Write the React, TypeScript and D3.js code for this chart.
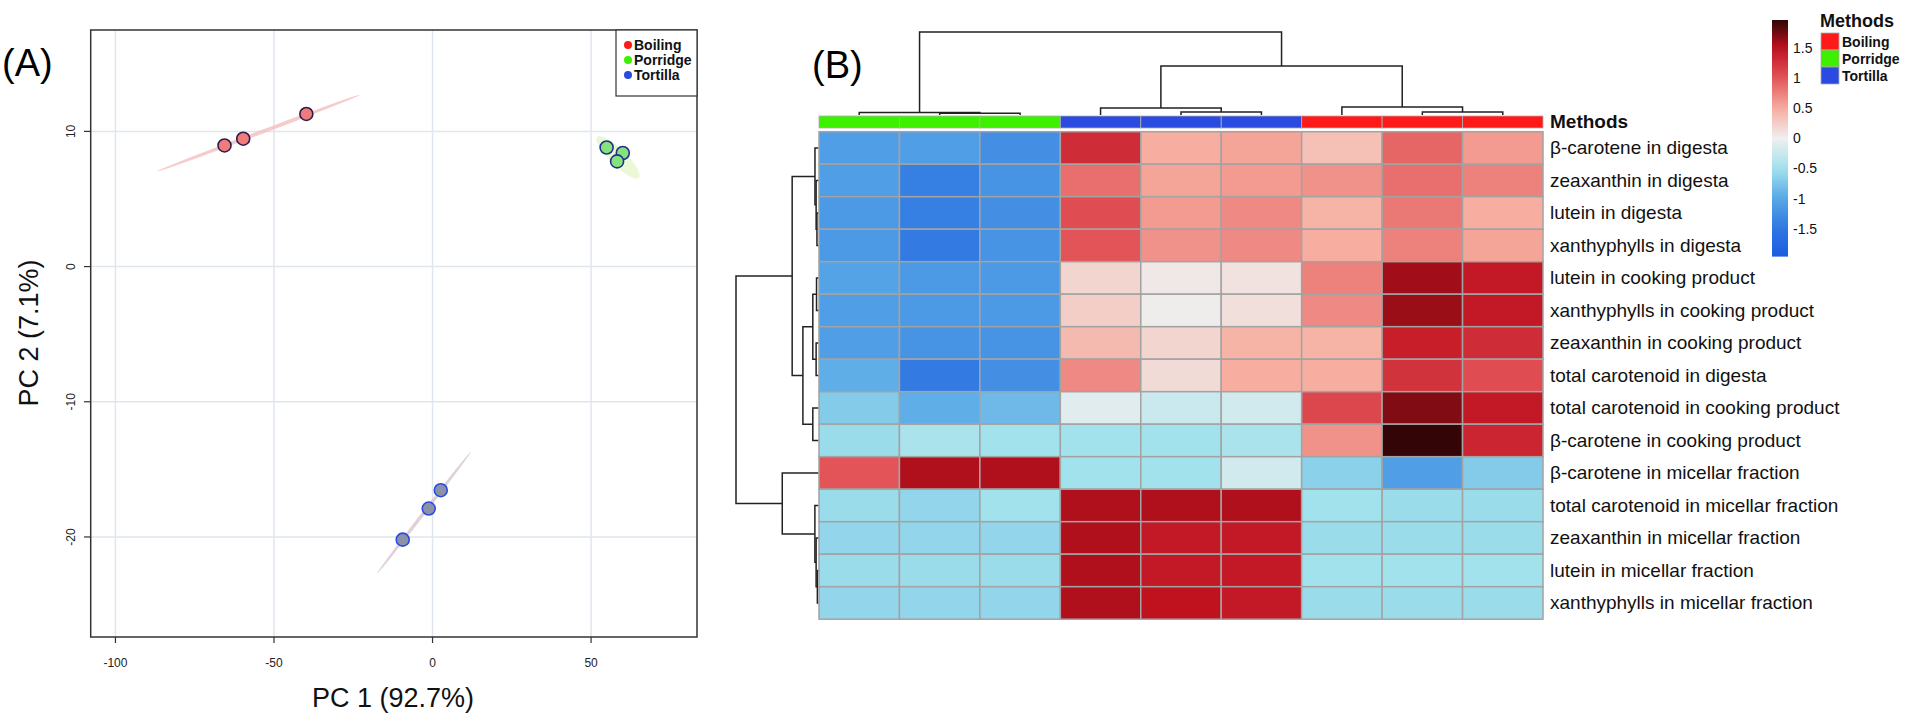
import * as d3 from 'd3';

// ---------- (A) PCA scores ----------
const methods = ['Boiling', 'Porridge', 'Tortilla'];
const methodColors = ['#ff1a1a', '#3cf000', '#2b4be0'];
const boilingPC1 = [-65.6, -59.7, -39.8];
const boilingPC2 = [8.96, 9.46, 11.29];
const porridgePC1 = [54.9, 60.0, 58.2];
const porridgePC2 = [8.81, 8.4, 7.78];
const tortillaPC1 = [2.6, -1.2, -9.4];
const tortillaPC2 = [-16.54, -17.9, -20.2];
// confidence ellipse major axis ends (PC1, PC2)
const boilingEllipse = [[-86.9, 7.04], [-22.9, 12.7]];
const porridgeEllipse = [[51.9, 9.6], [65.1, 6.57]];
const tortillaEllipse = [[-17.5, -22.7], [12.1, -13.7]];
const pcaXTicks = [-100, -50, 0, 50];
const pcaYTicks = [-20, -10, 0, 10];

// ---------- (B) heatmap ----------
const columnMethods = [
  'Porridge', 'Porridge', 'Porridge',
  'Tortilla', 'Tortilla', 'Tortilla',
  'Boiling', 'Boiling', 'Boiling',
];
const rowLabels = [
  'β-carotene in digesta',
  'zeaxanthin in digesta',
  'lutein in digesta',
  'xanthyphylls in digesta',
  'lutein in cooking product',
  'xanthyphylls in cooking product',
  'zeaxanthin in cooking product',
  'total carotenoid in digesta',
  'total carotenoid in cooking product',
  'β-carotene in cooking product',
  'β-carotene in micellar fraction',
  'total carotenoid in micellar fraction',
  'zeaxanthin in micellar fraction',
  'lutein in micellar fraction',
  'xanthyphylls in micellar fraction',
];
const heatValues = [
  [-1.1, -1.1, -1.25, 1.3, 0.5, 0.55, 0.35, 0.9, 0.6],
  [-1.1, -1.4, -1.2, 0.85, 0.55, 0.6, 0.65, 0.85, 0.75],
  [-1.15, -1.4, -1.25, 1.05, 0.6, 0.7, 0.45, 0.8, 0.5],
  [-1.15, -1.45, -1.2, 1.0, 0.65, 0.7, 0.5, 0.75, 0.55],
  [-1.05, -1.15, -1.15, 0.2, 0.05, 0.1, 0.75, 1.6, 1.45],
  [-1.1, -1.15, -1.15, 0.25, 0.02, 0.12, 0.7, 1.62, 1.45],
  [-1.1, -1.2, -1.2, 0.4, 0.2, 0.45, 0.45, 1.4, 1.3],
  [-0.95, -1.45, -1.25, 0.7, 0.15, 0.5, 0.5, 1.25, 1.05],
  [-0.7, -0.95, -0.85, -0.1, -0.25, -0.2, 1.1, 1.7, 1.45],
  [-0.55, -0.45, -0.5, -0.5, -0.5, -0.45, 0.65, 1.95, 1.35],
  [1.0, 1.55, 1.55, -0.5, -0.5, -0.2, -0.65, -1.1, -0.7],
  [-0.55, -0.6, -0.5, 1.55, 1.55, 1.55, -0.5, -0.55, -0.55],
  [-0.6, -0.6, -0.6, 1.55, 1.45, 1.45, -0.55, -0.55, -0.55],
  [-0.55, -0.55, -0.55, 1.55, 1.45, 1.45, -0.5, -0.5, -0.5],
  [-0.6, -0.6, -0.6, 1.55, 1.5, 1.45, -0.55, -0.55, -0.55],
];
const colorStops = [-1.96, -1.5, -1, -0.5, 0, 0.5, 1, 1.5, 1.96];
const colorHex = ['#1e5be0', '#2f76e2', '#58a8e6', '#a2e2ec', '#efefef', '#f7ad9f', '#e25458', '#c0111f', '#300505'];
const colorbarTicks = [-1.5, -1, -0.5, 0, 0.5, 1, 1.5];

type TreeNode = number | { h: number; c: [TreeNode, TreeNode] };
const colTree: TreeNode = {
  h: 10,
  c: [
    { h: 0.3, c: [0, { h: 0.22, c: [1, 2] }] },
    {
      h: 5.9,
      c: [
        { h: 0.84, c: [3, { h: 0.36, c: [4, 5] }] },
        { h: 0.96, c: [6, { h: 0.36, c: [7, 8] }] },
      ],
    },
  ],
};
const rowTree: TreeNode = {
  h: 10,
  c: [
    {
      h: 3.2,
      c: [
        { h: 0.44, c: [0, { h: 0.3, c: [1, { h: 0.2, c: [2, 3] }] }] },
        {
          h: 1.9,
          c: [
            { h: 0.7, c: [{ h: 0.25, c: [4, 5] }, { h: 0.3, c: [6, 7] }] },
            { h: 0.7, c: [8, 9] },
          ],
        },
      ],
    },
    { h: 4.4, c: [10, { h: 0.45, c: [11, { h: 0.3, c: [12, { h: 0.15, c: [13, 14] }] }] }] },
  ],
};

const FONT = '"Liberation Sans", Arial, sans-serif';

function dendroSegments(node: TreeNode, leafPos: (i: number) => number) {
  const segs: { p1: number; h1: number; p2: number; h2: number; h: number }[] = [];
  function walk(n: TreeNode): { p: number; h: number } {
    if (typeof n === 'number') return { p: leafPos(n), h: 0 };
    const a = walk(n.c[0]);
    const b = walk(n.c[1]);
    segs.push({ p1: a.p, h1: a.h, p2: b.p, h2: b.h, h: n.h });
    return { p: (a.p + b.p) / 2, h: n.h };
  }
  walk(node);
  return segs;
}

function PcaPanel() {
  const x = d3.scaleLinear().domain([-107.8, 83.4]).range([90.7, 697]);
  const y = d3.scaleLinear().domain([-27.4, 17.5]).range([637, 30]);
  const groups = [
    { pc1: boilingPC1, pc2: boilingPC2, ell: boilingEllipse, fill: '#ef7b7b', stroke: '#2a1f50', ellFill: '#f4c2c2', ellW: 1.9 },
    { pc1: porridgePC1, pc2: porridgePC2, ell: porridgeEllipse, fill: '#86e27e', stroke: '#23308a', ellFill: '#e8f7cf', ellW: 8 },
    { pc1: tortillaPC1, pc2: tortillaPC2, ell: tortillaEllipse, fill: '#8a91a9', stroke: '#2b4be0', ellFill: '#dac8d2', ellW: 1.7 },
  ];

  return (
    <g>
      <text x={2} y={76} fontSize={38} fontFamily={FONT}>(A)</text>
      {pcaXTicks.map((t) => (
        <line key={`gx${t}`} x1={x(t)} x2={x(t)} y1={30} y2={637} stroke="#dfe6ee" strokeWidth={1.5} />
      ))}
      {pcaYTicks.map((t) => (
        <line key={`gy${t}`} x1={90.7} x2={697} y1={y(t)} y2={y(t)} stroke="#dfe6ee" strokeWidth={1.5} />
      ))}
      {groups.map((g, gi) => {
        const [[ax, ay], [bx, by]] = g.ell;
        const x1 = x(ax), y1 = y(ay), x2 = x(bx), y2 = y(by);
        const cx = (x1 + x2) / 2;
        const cy = (y1 + y2) / 2;
        const rx = Math.hypot(x2 - x1, y2 - y1) / 2;
        const ang = (Math.atan2(y2 - y1, x2 - x1) * 180) / Math.PI;
        return (
          <ellipse
            key={`e${gi}`}
            cx={cx}
            cy={cy}
            rx={rx}
            ry={g.ellW}
            transform={`rotate(${ang} ${cx} ${cy})`}
            fill={g.ellFill}
            opacity={0.85}
          />
        );
      })}
      {groups.map((g, gi) =>
        g.pc1.map((v, i) => (
          <circle
            key={`p${gi}-${i}`}
            cx={x(v)}
            cy={y(g.pc2[i])}
            r={6.5}
            fill={g.fill}
            stroke={g.stroke}
            strokeWidth={1.6}
          />
        )),
      )}
      <rect x={90.7} y={30} width={697 - 90.7} height={607} fill="none" stroke="#333" strokeWidth={1.5} />
      {pcaXTicks.map((t) => (
        <g key={`tx${t}`}>
          <line x1={x(t)} x2={x(t)} y1={637} y2={643} stroke="#333" strokeWidth={1.2} />
          <text x={x(t)} y={667} fontSize={12} textAnchor="middle" fontFamily={FONT} fill="#222">
            {t}
          </text>
        </g>
      ))}
      {pcaYTicks.map((t) => (
        <g key={`ty${t}`}>
          <line x1={84} x2={90.7} y1={y(t)} y2={y(t)} stroke="#333" strokeWidth={1.2} />
          <text
            transform={`translate(75, ${y(t)}) rotate(-90)`}
            fontSize={12}
            textAnchor="middle"
            fontFamily={FONT}
            fill="#222"
          >
            {t}
          </text>
        </g>
      ))}
      <text x={393} y={707} fontSize={27} textAnchor="middle" fontFamily={FONT} fill="#111">
        PC 1 (92.7%)
      </text>
      <text
        transform={`translate(38, 333) rotate(-90)`}
        fontSize={27}
        textAnchor="middle"
        fontFamily={FONT}
        fill="#111"
      >
        PC 2 (7.1%)
      </text>
      <rect x={616} y={30} width={81} height={66} fill="#fff" stroke="#333" strokeWidth={1.2} />
      {methods.map((m, i) => (
        <g key={m}>
          <circle cx={628} cy={45 + i * 15} r={4} fill={methodColors[i]} />
          <text x={634} y={50 + i * 15} fontSize={14} fontWeight="bold" fontFamily={FONT} fill="#111">
            {m}
          </text>
        </g>
      ))}
    </g>
  );
}

function HeatPanel() {
  const cols = columnMethods.map((_, i) => i);
  const xb = d3.scaleBand<number>().domain(cols).range([819, 1543]);
  const yb = d3.scaleBand<number>().domain(rowLabels.map((_, i) => i)).range([131.7, 619.2]);
  const color = d3
    .scaleLinear<string>()
    .domain(colorStops)
    .range(colorHex)
    .interpolate(d3.interpolateRgb)
    .clamp(true);
  const methodColor = (m: string) => methodColors[methods.indexOf(m)];

  const colH = d3.scaleLinear().domain([0, 10]).range([115, 32]);
  const rowH = d3.scaleLinear().domain([0, 10]).range([818.6, 736]);
  const colSegs = dendroSegments(colTree, (i) => (xb(i) || 0) + xb.bandwidth() / 2);
  const rowSegs = dendroSegments(rowTree, (i) => (yb(i) || 0) + yb.bandwidth() / 2);

  const cb = d3.scaleLinear().domain([-1.96, 1.96]).range([256.6, 20]);
  const gradStops = d3.range(0, 1.0001, 0.05);

  return (
    <g>
      <text x={812} y={78} fontSize={38} fontFamily={FONT}>(B)</text>
      {colSegs.map((s, i) => (
        <path
          key={`cd${i}`}
          d={`M${s.p1},${colH(s.h1)}V${colH(s.h)}H${s.p2}V${colH(s.h2)}`}
          fill="none"
          stroke="#222"
          strokeWidth={1.5}
        />
      ))}
      {rowSegs.map((s, i) => (
        <path
          key={`rd${i}`}
          d={`M${rowH(s.h1)},${s.p1}H${rowH(s.h)}V${s.p2}H${rowH(s.h2)}`}
          fill="none"
          stroke="#222"
          strokeWidth={1.5}
        />
      ))}
      {columnMethods.map((m, i) => (
        <rect
          key={`mb${i}`}
          x={xb(i)}
          y={116}
          width={xb.bandwidth()}
          height={12}
          fill={methodColor(m)}
          stroke="#b0b0b0"
          strokeWidth={0.8}
        />
      ))}
      <text x={1550} y={128} fontSize={19} fontWeight="bold" fontFamily={FONT} fill="#111">
        Methods
      </text>
      {heatValues.map((row, r) =>
        row.map((v, c) => (
          <rect
            key={`c${r}-${c}`}
            x={xb(c)}
            y={yb(r)}
            width={xb.bandwidth()}
            height={yb.bandwidth()}
            fill={color(v)}
            stroke="#a3a3a3"
            strokeWidth={1.5}
          />
        )),
      )}
      {rowLabels.map((l, r) => (
        <text
          key={`rl${r}`}
          x={1550}
          y={(yb(r) || 0) + yb.bandwidth() / 2 + 6.5}
          fontSize={19}
          fontFamily={FONT}
          fill="#111"
        >
          {l}
        </text>
      ))}
      <defs>
        <linearGradient id="cbar" x1="0" y1="1" x2="0" y2="0">
          {gradStops.map((t) => (
            <stop key={t} offset={t} stopColor={color(-1.96 + t * 3.92)} />
          ))}
        </linearGradient>
      </defs>
      <rect x={1772} y={20} width={16} height={236.6} fill="url(#cbar)" />
      {colorbarTicks.map((t) => (
        <text key={`cb${t}`} x={1793} y={cb(t) + 5} fontSize={14} fontFamily={FONT} fill="#111">
          {t}
        </text>
      ))}
      <text x={1820} y={27} fontSize={18} fontWeight="bold" fontFamily={FONT} fill="#111">
        Methods
      </text>
      {methods.map((m, i) => (
        <g key={`lg${m}`}>
          <rect x={1821} y={33 + i * 17} width={18} height={17} fill={methodColors[i]} stroke="#aaa" strokeWidth={0.8} />
          <text x={1842} y={46.5 + i * 17} fontSize={14} fontWeight="bold" fontFamily={FONT} fill="#111">
            {m}
          </text>
        </g>
      ))}
    </g>
  );
}

export default function App() {
  return (
    <svg
      width={1905}
      height={721}
      viewBox="0 0 1905 721"
      style={{ position: 'absolute', left: 0, top: 0, background: '#fff' }}
    >
      <rect width={1905} height={721} fill="#fff" />
      <PcaPanel />
      <HeatPanel />
    </svg>
  );
}
